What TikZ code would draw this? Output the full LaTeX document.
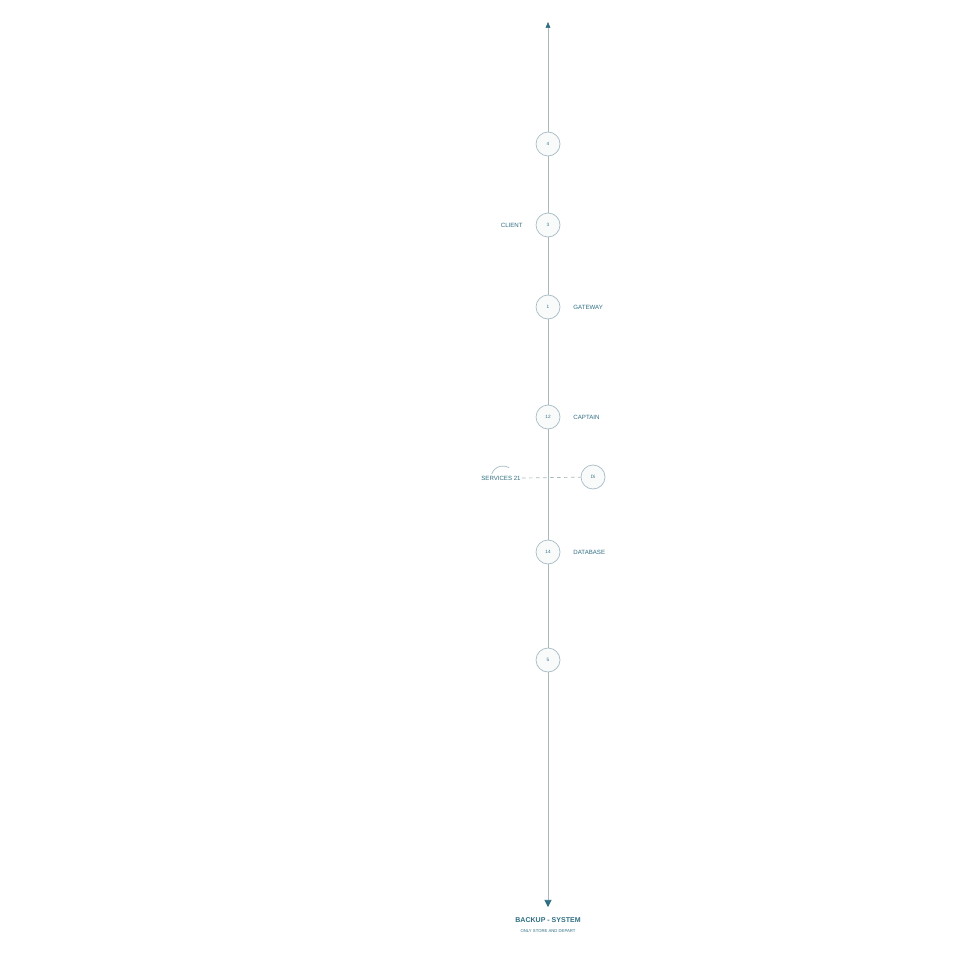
\documentclass[tikz,border=0pt]{standalone}
\usepackage{fontspec}
\setmainfont{Liberation Sans}
\usetikzlibrary{arrows.meta,positioning}
\definecolor{tealtxt}{HTML}{2F6F82}
\definecolor{ringc}{HTML}{A7BCC4}
\definecolor{linec}{HTML}{A9B8BD}
\begin{document}
\begin{tikzpicture}[x=0.03cm,y=-0.03cm]
				\tikzstyle{stage}=[circle,draw=ringc,fill=tealtxt!3,line width=0.6pt,minimum size=0.72cm,inner sep=0pt,text=tealtxt,font=\fontsize{4}{4}\selectfont]
				\tikzstyle{tag}=[text=tealtxt,font=\fontsize{5.2}{5.2}\selectfont,inner sep=1pt]
				\tikzstyle{spine}=[draw=linec,line width=0.5pt]
				
				% Fondo
				\fill[white] (0,0) rectangle (960,960);
				\useasboundingbox (0,0) rectangle (960,960);
				
				% Extremos del eje
				\coordinate (top) at (548,22);
				\coordinate (bottom) at (548,907);
				
				% Eje vertical
				\draw[spine,{Triangle[length=5pt,width=4pt,color=tealtxt]}-{Triangle[length=6pt,width=6pt,color=tealtxt]}] (top) -- (bottom);
				
				% Etapas
				\foreach \name / \y in {4/144,3/225,1/307,12/417,14/552,5/660}
				\node[stage] (S-\name) at (548,\y) {\name};
				
				% Rama lateral
				\node[stage] (D) at (593,477) {Di};
				\node[tag,anchor=west] (svc) at (480,478) {SERVICES 21};
				\draw[ringc,line width=0.6pt] (491.7,473.9) arc (200:300:12);
				\draw[linec,dashed,line width=0.6pt] (svc.east) -- (D);
				
				% Etiquetas
				\node[tag,left=10pt of S-3] (client) {CLIENT};
				\node[tag,right=10pt of S-1] (gateway) {GATEWAY};
				\node[tag,right=10pt of S-12] (captain) {CAPTAIN};
				\node[tag,right=10pt of S-14] (db) {DATABASE};
				
				% Pie
				\node[tag,font=\fontsize{6}{6}\selectfont\bfseries,below=8pt of bottom] (title) {BACKUP - SYSTEM};
				\node[tag,font=\fontsize{3.6}{3.6}\selectfont,below=3pt of title] (sub) {ONLY STORE AND DEPART};
			\end{tikzpicture}
\end{document}
